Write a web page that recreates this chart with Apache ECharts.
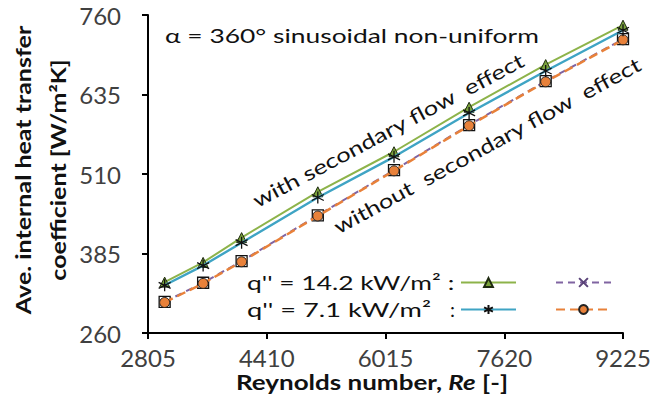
<!DOCTYPE html>
<html>
<head>
<meta charset="utf-8">
<script src="https://cdn.jsdelivr.net/npm/echarts@6/dist/echarts.min.js"></script>
<style>html,body{margin:0;padding:0;background:#fff}#c{width:661px;height:403px}</style>
</head>
<body>
<div id="c"></div>
<script>
// Data
const reynolds = [3030, 3550, 4070, 5100, 6130, 7145, 8180, 9225];
const withSec142 = [340, 371, 410, 482, 545, 615, 682, 744];
const withoutSec142 = [309, 339, 373, 445, 516, 587, 656, 722];
const withSec71 = [335, 366, 402, 473, 537, 606, 672, 736];
const withoutSec71 = [308, 338, 372, 444, 515, 586, 655, 721];
const xTicks = [2805, 4410, 6015, 7620, 9225];
const yTicks = [260, 385, 510, 635, 760];

const FONT = 'Lato';
const pairs = (xs, ys) => xs.map((x, i) => [x, ys[i]]);
const ASTER = 'path://M0,-10L0,10M-8.66,-5L8.66,5M-8.66,5L8.66,-5';
const CROSS = 'path://M-5,-5L5,5M-5,5L5,-5';
const CLEAR = 'rgba(0,0,0,0)';

const names = {
  g: 'q" = 14.2 with',
  p: 'q" = 14.2 without',
  b: 'q" = 7.1 with',
  o: 'q" = 7.1 without'
};

const legendBase = {padding: 0, itemWidth: 55, itemHeight: 11, formatter: () => '', selectedMode: false};

const chart = echarts.init(document.getElementById('c'), null, {renderer: 'svg'});
chart.setOption({
  animation: false,
  grid: {left: 148, right: 38, top: 15, bottom: 70},
  xAxis: {
    type: 'value', min: xTicks[0], max: xTicks[xTicks.length - 1], interval: xTicks[1] - xTicks[0],
    splitLine: {show: false},
    axisLine: {onZero: false, lineStyle: {color: '#000', width: 2}},
    axisTick: {show: true, length: 6, inside: false, lineStyle: {color: '#000', width: 2}},
    axisLabel: {fontFamily: FONT, fontSize: 24, color: '#404040', margin: 12, showMinLabel: true, showMaxLabel: true,
      formatter: v => String(v)}
  },
  yAxis: {
    type: 'value', min: yTicks[0], max: yTicks[yTicks.length - 1], interval: yTicks[1] - yTicks[0],
    splitLine: {show: false},
    axisLine: {show: true, onZero: false, lineStyle: {color: '#000', width: 2}},
    axisTick: {show: true, length: 6, lineStyle: {color: '#000', width: 2}},
    axisLabel: {fontFamily: FONT, fontSize: 24, color: '#404040', margin: 27, formatter: v => String(v)}
  },
  legend: [
    Object.assign({data: [names.g], left: 460, top: 277}, legendBase),
    Object.assign({data: [names.p], left: 555, top: 277}, legendBase),
    Object.assign({data: [names.b], left: 460, top: 304}, legendBase),
    Object.assign({data: [names.o], left: 555, top: 304}, legendBase)
  ],
  series: [
    {
      name: names.p, type: 'line', data: pairs(reynolds, withoutSec142), z: 2,
      symbol: CROSS, symbolSize: 7,
      lineStyle: {color: '#8064A2', width: 2, type: [7, 5]},
      itemStyle: {color: CLEAR, borderColor: '#5a4378', borderWidth: 1.5}
    },
    {
      name: 'frame', type: 'line', data: pairs(reynolds, withoutSec142), z: 3,
      symbol: 'rect', symbolSize: 11,
      lineStyle: {width: 0, opacity: 0},
      itemStyle: {color: '#ffffff', borderColor: '#111', borderWidth: 1.3}
    },
    {
      name: names.o, type: 'line', data: pairs(reynolds, withoutSec71), z: 4,
      symbol: 'circle', symbolSize: 10,
      lineStyle: {color: '#E8813A', width: 2.5, type: [9, 5]},
      itemStyle: {color: '#E8813A', borderColor: '#222', borderWidth: 1}
    },
    {
      name: names.g, type: 'line', data: pairs(reynolds, withSec142), z: 5,
      symbol: 'triangle', symbolSize: 10,
      lineStyle: {color: '#8DB34A', width: 2},
      itemStyle: {color: '#7AA23C', borderColor: '#1e2a10', borderWidth: 1}
    },
    {
      name: names.b, type: 'line', data: pairs(reynolds, withSec71), z: 6,
      symbol: ASTER, symbolSize: 12,
      lineStyle: {color: '#3FA4C4', width: 2.4},
      itemStyle: {color: CLEAR, borderColor: '#111', borderWidth: 1.3}
    }
  ],
  graphic: [
    {type: 'text', x: 165, y: 35, scaleX: 1.32,
      style: {text: 'α = 360° sinusoidal non-uniform', font: '20px ' + FONT, fill: '#111', textVerticalAlign: 'middle'}},
    {type: 'text', x: 388, y: 130, rotation: 28 * Math.PI / 180, scaleX: 1.28,
      style: {text: 'with secondary flow  effect', font: '20px ' + FONT, fill: '#111', textAlign: 'center', textVerticalAlign: 'middle'}},
    {type: 'text', x: 487, y: 145, rotation: 28.5 * Math.PI / 180, scaleX: 1.27,
      style: {text: 'without  secondary flow  effect', font: '20px ' + FONT, fill: '#111', textAlign: 'center', textVerticalAlign: 'middle'}},
    {type: 'text', x: 247, y: 282, scaleX: 1.32,
      style: {text: 'q\'\' = 14.2 kW/m² :', font: '20px ' + FONT, fill: '#111', textVerticalAlign: 'middle'}},
    {type: 'text', x: 247, y: 309, scaleX: 1.36,
      style: {text: 'q\'\' = 7.1 kW/m²', font: '20px ' + FONT, fill: '#111', textVerticalAlign: 'middle'}},
    {type: 'text', x: 450, y: 309,
      style: {text: ':', font: '20px ' + FONT, fill: '#111', textVerticalAlign: 'middle'}},
    {type: 'text', x: 372, y: 382, scaleX: 1.3, style: {
      rich: {b: {font: 'bold 20px ' + FONT, fill: '#111'}, i: {font: 'italic bold 20px ' + FONT, fill: '#111'}},
      text: '{b|Reynolds number, }{i|Re}{b| [-]}', textAlign: 'center', textVerticalAlign: 'middle'}},
    {type: 'text', x: 41, y: 170, rotation: Math.PI / 2, scaleX: 1.25, style: {
      text: 'Ave. internal heat transfer\ncoefficient [W/m²K]', font: 'bold 20px ' + FONT, fill: '#111',
      textAlign: 'center', textVerticalAlign: 'middle', lineHeight: 36}}
  ]
});
</script>
</body>
</html>
